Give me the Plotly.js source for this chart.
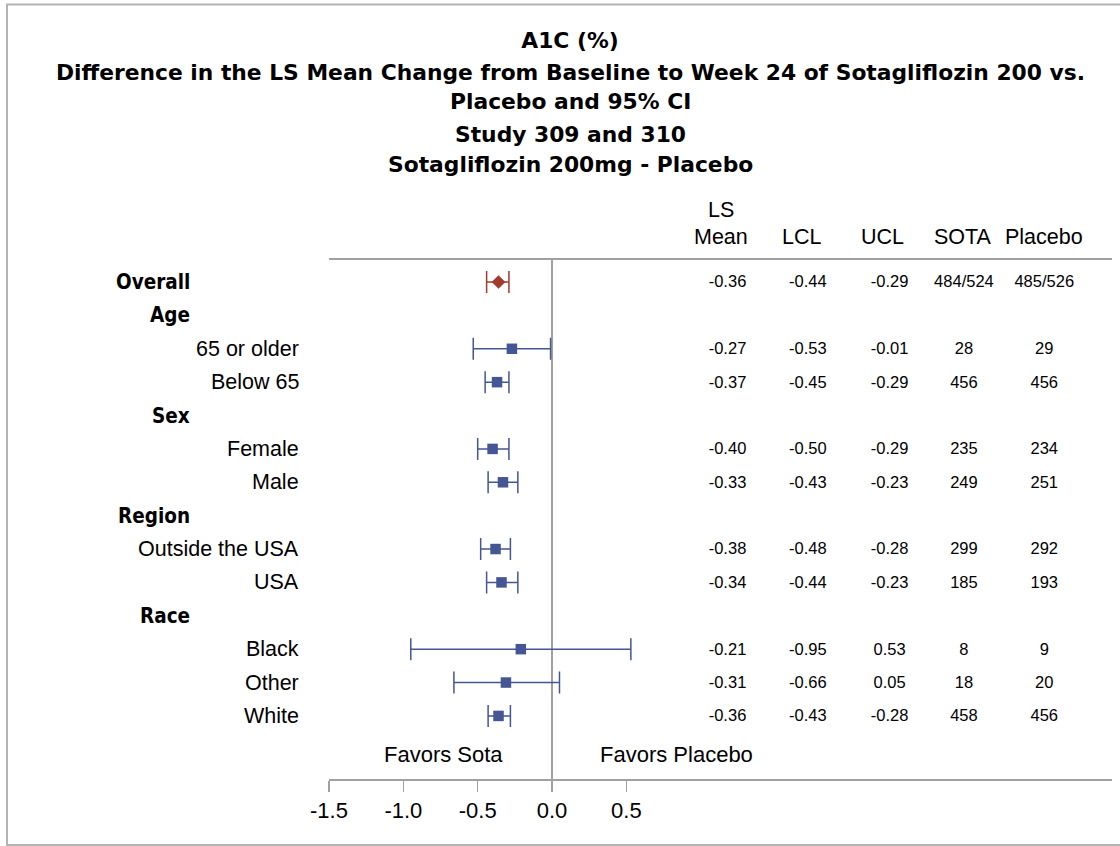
<!DOCTYPE html>
<html>
<head>
<meta charset="utf-8">
<script src="https://cdn.plot.ly/plotly-3.0.1.min.js"></script>
<style>
  html, body { margin: 0; padding: 0; background: #ffffff; }
  #chart { width: 1120px; height: 846px; }
</style>
</head>
<body>
<div id="chart"></div>
<script>
// Subgroup rows of the forest plot, top to bottom
const rowLabels = ['Overall', 'Age', '65 or older', 'Below 65', 'Sex', 'Female', 'Male',
                   'Region', 'Outside the USA', 'USA', 'Race', 'Black', 'Other', 'White'];
const groupRows = ['Overall', 'Age', 'Sex', 'Region', 'Race'];

// Difference in LS mean change (Sotagliflozin 200mg - Placebo) with 95% CI
const lsMean = [-0.36, null, -0.27, -0.37, null, -0.40, -0.33, null, -0.38, -0.34, null, -0.21, -0.31, -0.36];
const lcl    = [-0.44, null, -0.53, -0.45, null, -0.50, -0.43, null, -0.48, -0.44, null, -0.95, -0.66, -0.43];
const ucl    = [-0.29, null, -0.01, -0.29, null, -0.29, -0.23, null, -0.28, -0.23, null,  0.53,  0.05, -0.28];

// Patient counts per arm
const nSota    = ['484/524', '', '28', '456', '', '235', '249', '', '299', '185', '', '8', '18', '458'];
const nPlacebo = ['485/526', '', '29', '456', '', '234', '251', '', '292', '193', '', '9', '20', '456'];

// Table columns and axis ticks
const columnHeaders = ['Mean', 'LCL', 'UCL', 'SOTA', 'Placebo'];
const tickValues = [-1.5, -1.0, -0.5, 0.0, 0.5];
const tickLabels = ['-1.5', '-1.0', '-0.5', '0.0', '0.5'];
const favorsLabels = ['Favors Sota', 'Favors Placebo'];

const titleLines = ['A1C (%)',
  'Difference in the LS Mean Change from Baseline to Week 24 of Sotagliflozin 200 vs.',
  'Placebo and 95% CI',
  'Study 309 and 310',
  'Sotagliflozin 200mg - Placebo'];

// ---- layout geometry ----
const M = {l: 329, r: 8, t: 260, b: 67};
const plotW = 1120 - M.l - M.r, plotH = 846 - M.t - M.b;
const pyToPaper = py => (846 - M.b - py) / plotH;
const pxToPaper = px => (px - M.l) / plotW;

const blue = '#445694', red = '#a23a2e', grey = '#a0a0a0';
const regFont = '"Liberation Sans", Arial, sans-serif';
const boldFont = '"DejaVu Sans Condensed", "DejaVu Sans", sans-serif';
const titleFont = '"DejaVu Sans", sans-serif';

// x positions (data units) of the table columns
const colX    = [1.18, 1.72, 2.27, 2.77, 3.31];
const headerX = [1.135, 1.677, 2.222, 2.766, 3.311];

const idx = rowLabels.map((_, i) => i);
const fmt = v => (v === null ? '' : v.toFixed(2));

function ciTrace(rows, color, symbol, size) {
  return {
    type: 'scatter', mode: 'markers',
    x: rows.map(i => lsMean[i]), y: rows,
    marker: {symbol: symbol, size: size, color: color, line: {width: 0}},
    error_x: {type: 'data', symmetric: false,
      array: rows.map(i => ucl[i] - lsMean[i]),
      arrayminus: rows.map(i => lsMean[i] - lcl[i]),
      color: color, thickness: 1.5, width: 11},
    hoverinfo: 'skip', showlegend: false
  };
}

const overallRows = idx.filter(i => rowLabels[i] === 'Overall');
const subRows = idx.filter(i => lsMean[i] !== null && rowLabels[i] !== 'Overall');

function textColumn(x, values) {
  return {
    type: 'scatter', mode: 'text',
    x: idx.map(() => x), y: idx.map(i => i + 0.04), text: values,
    textposition: 'middle center',
    textfont: {family: regFont, size: 16.5, color: '#000'},
    hoverinfo: 'skip', showlegend: false, cliponaxis: false
  };
}

const traces = [
  ciTrace(subRows, blue, 'square', 10.5),
  ciTrace(overallRows, red, 'diamond', 10.5),
  textColumn(colX[0], lsMean.map(fmt)),
  textColumn(colX[1], lcl.map(fmt)),
  textColumn(colX[2], ucl.map(fmt)),
  textColumn(colX[3], nSota),
  textColumn(colX[4], nPlacebo)
];

const annotations = [];

// title lines below the main title
const titleY = [72, 101, 134, 164];
titleLines.slice(1).forEach((t, k) => annotations.push({
  text: t, xref: 'paper', yref: 'paper', x: pxToPaper(570), y: pyToPaper(titleY[k]),
  xanchor: 'center', yanchor: 'middle', showarrow: false,
  font: {family: titleFont, size: 21.8, color: '#000', weight: 'bold'}
}));

// row labels on the left
rowLabels.forEach((lab, i) => {
  const isGroup = groupRows.includes(lab);
  annotations.push({
    text: lab, xref: 'paper', yref: 'y', x: pxToPaper(isGroup ? 192 : 301), y: i,
    xanchor: 'right', yanchor: 'middle', showarrow: false,
    font: isGroup ? {family: boldFont, size: 20.5, color: '#000', weight: 'bold'}
                  : {family: regFont, size: 21.5, color: '#000'}
  });
});

// table column headers
columnHeaders.forEach((h, k) => annotations.push({
  text: h, xref: 'x', yref: 'paper', x: headerX[k], y: pyToPaper(237),
  xanchor: 'center', yanchor: 'middle', showarrow: false,
  font: {family: regFont, size: 21.5, color: '#000'}
}));
annotations.push({
  text: 'LS', xref: 'x', yref: 'paper', x: headerX[0], y: pyToPaper(210),
  xanchor: 'center', yanchor: 'middle', showarrow: false,
  font: {family: regFont, size: 21.5, color: '#000'}
});

// direction labels above the axis
[-0.73, 0.84].forEach((x, k) => annotations.push({
  text: favorsLabels[k], xref: 'x', yref: 'y', x: x, y: 14.17,
  xanchor: 'center', yanchor: 'middle', showarrow: false,
  font: {family: regFont, size: 22, color: '#000'}
}));

const layout = {
  width: 1120, height: 846,
  margin: M,
  paper_bgcolor: '#ffffff', plot_bgcolor: '#ffffff',
  title: {text: titleLines[0], xref: 'container', yref: 'container',
          x: 570 / 1120, y: 1 - 40 / 846, xanchor: 'center', yanchor: 'middle',
          font: {family: titleFont, size: 21.8, color: '#000', weight: 'bold'}},
  xaxis: {
    range: [-1.5, -1.5 + plotW / 148.7],
    tickmode: 'array', tickvals: tickValues, ticktext: tickLabels,
    ticks: 'outside', ticklen: 11, tickwidth: 1.5, tickcolor: grey,
    tickfont: {family: regFont, size: 22, color: '#000'},
    showline: true, linecolor: grey, linewidth: 2, mirror: true,
    showgrid: false, zeroline: true, zerolinecolor: grey, zerolinewidth: 1.5,
    fixedrange: true
  },
  yaxis: {
    range: [14.89, -0.66], showticklabels: false, ticks: '',
    showline: false, showgrid: false, zeroline: false, fixedrange: true
  },
  shapes: [{
    type: 'rect', xref: 'paper', yref: 'paper',
    x0: pxToPaper(7), x1: pxToPaper(1130), y0: pyToPaper(845), y1: pyToPaper(4.5),
    line: {color: '#b4b4b4', width: 2}, fillcolor: 'rgba(0,0,0,0)'
  }],
  annotations: annotations,
  showlegend: false
};

Plotly.newPlot('chart', traces, layout, {displayModeBar: false, staticPlot: true});
</script>
</body>
</html>
